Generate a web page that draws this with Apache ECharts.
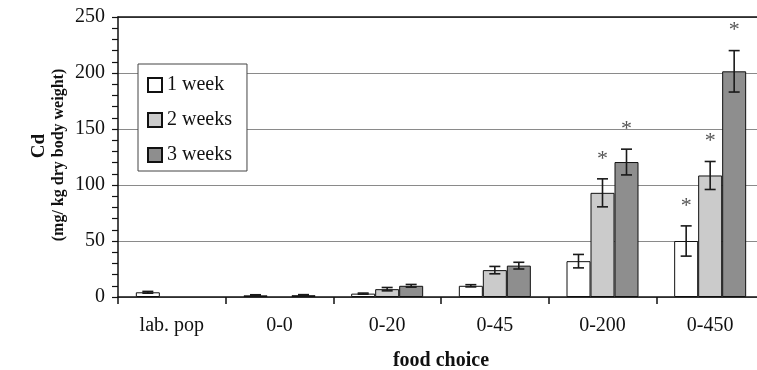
<!DOCTYPE html>
<html>
<head>
<meta charset="utf-8">
<script src="https://cdn.jsdelivr.net/npm/echarts@6/dist/echarts.min.js"></script>
<style>
  html, body { margin: 0; padding: 0; background: #fff; overflow: hidden; }
  /* plot runs slightly past the right edge of the window */
  #chart { width: 764px; height: 370px; }
</style>
</head>
<body>
<div id="chart"></div>
<script>
// Cd body burden (mg/kg dry body weight) per food choice and exposure time
const categories = ['lab. pop', '0-0', '0-20', '0-45', '0-200', '0-450'];
const seriesNames = ['1 week', '2 weeks', '3 weeks'];

const week1 = [4.2, 1.5, 3.0, 10, 32, 50];
const week2 = ['-', '-', 7, 24, 93, 108.5];
const week3 = ['-', 1.6, 10, 28, 120.5, 201.5];

// standard errors
const week1Err = [0.8, 0.5, 0.5, 1, 6, 13.5];
const week2Err = [null, null, 1.5, 3.3, 12.5, 12.5];
const week3Err = [null, 0.5, 1.2, 3, 11.5, 18.5];

// significant difference (*)
const week1Sig = [false, false, false, false, false, true];
const week2Sig = [false, false, false, false, true, true];
const week3Sig = [false, false, false, false, true, true];

const yTicks = [0, 50, 100, 150, 200, 250];

const FONT = "'Liberation Serif', 'Times New Roman', serif";
const BAR_W = 24;
const colors = ['#ffffff', '#cbcbcb', '#8e8e8e'];

function errData(values, errs, sigs) {
  const out = [];
  values.forEach((v, i) => {
    if (typeof v === 'number' && errs[i] != null) out.push([i, v, errs[i], sigs[i] ? 1 : 0]);
  });
  return out;
}

function errRenderer(slot) {
  return function (params, api) {
    const cat = api.value(0), v = api.value(1), e = api.value(2), sig = api.value(3);
    const x = api.coord([cat, 0])[0] + (slot - 1) * BAR_W;
    const yHi = api.coord([cat, v + e])[1];
    const yLo = api.coord([cat, v - e])[1];
    const cap = 5.5;
    const st = { stroke: '#1a1a1a', lineWidth: 1.6 };
    const children = [
      { type: 'line', shape: { x1: x, y1: yHi, x2: x, y2: yLo }, style: st },
      { type: 'line', shape: { x1: x - cap, y1: yHi, x2: x + cap, y2: yHi }, style: st },
      { type: 'line', shape: { x1: x - cap, y1: yLo, x2: x + cap, y2: yLo }, style: st }
    ];
    if (sig) {
      children.push({
        type: 'text',
        style: {
          x: x, y: yHi - 20, text: '*',
          font: '22px ' + FONT, fill: '#555',
          textAlign: 'center', textVerticalAlign: 'middle'
        }
      });
    }
    return { type: 'group', children: children };
  };
}

const barValues = [week1, week2, week3];
const errs = [week1Err, week2Err, week3Err];
const sigs = [week1Sig, week2Sig, week3Sig];

const series = [];
seriesNames.forEach((name, i) => {
  series.push({
    name: name,
    type: 'bar',
    data: barValues[i],
    barWidth: BAR_W,
    barGap: '0%',
    itemStyle: { color: colors[i], borderColor: '#111', borderWidth: 1 },
    emphasis: { disabled: true },
    z: 2
  });
});
seriesNames.forEach((name, i) => {
  series.push({
    name: name + ' err',
    type: 'custom',
    renderItem: errRenderer(i),
    data: errData(barValues[i], errs[i], sigs[i]),
    z: 5,
    silent: true
  });
});

const chart = echarts.init(document.getElementById('chart'));
chart.setOption({
  animation: false,
  backgroundColor: '#fff',
  grid: { left: 118, top: 17, right: 0, height: 280, containLabel: false, outerBoundsMode: 'none' },
  legend: {
    data: seriesNames,
    orient: 'vertical',
    left: 138, top: 64,
    icon: 'rect',
    itemWidth: 14, itemHeight: 14,
    itemGap: 15,
    padding: [11, 15, 6, 9],
    backgroundColor: '#fff',
    borderColor: '#444', borderWidth: 1,
    selectedMode: false,
    textStyle: { fontFamily: FONT, fontSize: 20, color: '#111' }
  },
  xAxis: [{
    type: 'category',
    data: categories,
    axisLine: { lineStyle: { color: '#111', width: 1.5 } },
    axisTick: { show: true, length: 7, lineStyle: { color: '#111', width: 1.5 } },
    axisLabel: { margin: 19, fontFamily: FONT, fontSize: 20, color: '#111' },
    name: 'food choice',
    nameLocation: 'middle',
    nameGap: 54,
    nameTextStyle: { fontFamily: FONT, fontSize: 20, fontWeight: 'bold', color: '#111' }
  }, {
    type: 'category',
    position: 'top',
    data: categories,
    axisLine: { lineStyle: { color: '#111', width: 1.5 } },
    axisTick: { show: false },
    axisLabel: { show: false }
  }],
  yAxis: {
    type: 'value',
    min: yTicks[0], max: yTicks[yTicks.length - 1], interval: yTicks[1] - yTicks[0],
    axisLine: { show: true, lineStyle: { color: '#111', width: 1.5 } },
    axisTick: { show: true, length: 6, lineStyle: { color: '#111', width: 1.2 } },
    minorTick: { show: true, splitNumber: 5, length: 6, lineStyle: { color: '#111', width: 1.2 } },
    axisLabel: { margin: 13, fontFamily: FONT, fontSize: 20, color: '#111' },
    splitLine: { show: true, lineStyle: { color: '#8a8a8a', width: 1.2 } }
  },
  graphic: [
    {
      type: 'text', x: 39, y: 146, rotation: Math.PI / 2,
      style: { text: 'Cd', font: 'bold 19px ' + FONT, fill: '#111', textAlign: 'center', textVerticalAlign: 'middle' }
    },
    {
      type: 'text', x: 59, y: 155, rotation: Math.PI / 2,
      style: { text: '(mg/ kg dry body weight)', font: 'bold 16px ' + FONT, fill: '#111', textAlign: 'center', textVerticalAlign: 'middle' }
    }
  ],
  series: series
});
</script>
</body>
</html>
